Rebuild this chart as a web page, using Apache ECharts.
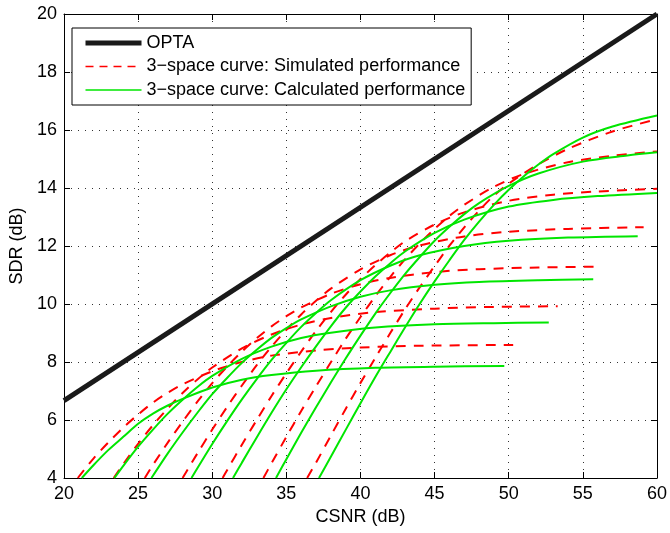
<!DOCTYPE html>
<html>
<head>
<meta charset="utf-8">
<script src="https://cdn.jsdelivr.net/npm/echarts@6/dist/echarts.min.js"></script>
<style>
html,body{margin:0;padding:0;background:#fff;}
#chart{width:670px;height:533px;}
</style>
</head>
<body>
<div id="chart"></div>
<script>
// ---- data ----
const xTicks = [20, 25, 30, 35, 40, 45, 50, 55, 60];
const yTicks = [4, 6, 8, 10, 12, 14, 16, 18, 20];

const opta = [[20, 6.667], [60, 20]];

// Calculated performance (green solid)
const calc1 = [[21.2,4.0],[22,4.45],[23,4.97],[24,5.42],[25,5.87],[26,6.22],[27,6.5],[28,6.73],[30,7.12],[32,7.39],[34,7.55],[37,7.70],[41,7.80],[45,7.84],[49.7,7.86]];
const calc2 = [[23.4,4.0],[24,4.42],[25,5.08],[26,5.67],[27,6.22],[28,6.70],[29,7.14],[30,7.52],[32,8.11],[34,8.53],[36,8.83],[38,9.01],[41,9.19],[45,9.30],[49,9.34],[52.7,9.36]];
const calc3 = [[25.9,4.0],[27,4.85],[28,5.57],[29,6.25],[30,6.89],[31,7.45],[32,7.97],[33,8.42],[34,8.83],[35,9.17],[36,9.47],[38,9.92],[40,10.25],[42,10.47],[45,10.66],[48,10.76],[52,10.82],[55.7,10.85]];
const calc4 = [[28.6,4.0],[30,5.17],[31,5.96],[32,6.71],[33,7.41],[34,8.07],[35,8.66],[36,9.21],[37,9.69],[38,10.13],[40,10.82],[42,11.32],[44,11.68],[47,12.0],[50,12.18],[54,12.29],[58.7,12.34]];
const calc5 = [[31.4,4.0],[32,4.53],[33,5.40],[34,6.25],[35,7.06],[36,7.82],[37,8.54],[38,9.23],[39,9.87],[40,10.43],[41,10.95],[42,11.40],[43,11.81],[45,12.45],[47,12.91],[50,13.36],[53,13.59],[56,13.72],[60,13.83]];
const calc6 = [[34.3,4.0],[35,4.65],[36,5.56],[37,6.44],[38,7.29],[39,8.12],[40,8.91],[41,9.67],[42,10.37],[43,11.03],[44,11.62],[45,12.18],[46,12.66],[47,13.10],[48,13.48],[50,14.07],[52,14.50],[55,14.91],[58,15.12],[60,15.23]];
const calc7 = [[37.2,4.0],[38,4.73],[39,5.66],[40,6.58],[41,7.48],[42,8.34],[43,9.19],[44,10.01],[45,10.78],[46,11.51],[47,12.21],[48,12.84],[49,13.42],[50,13.94],[51,14.40],[52,14.81],[53,15.17],[55,15.74],[57,16.12],[60,16.50]];

// Simulated performance (red dashed)
const sim1 = [[20.93,4.0],[22,4.68],[23,5.23],[24,5.74],[25,6.19],[26,6.60],[27,6.94],[28,7.23],[30,7.68],[32,8.0],[34,8.22],[37,8.40],[40,8.50],[44,8.56],[50.3,8.59]];
const sim2 = [[23.35,4.0],[24,4.48],[25,5.18],[26,5.82],[27,6.40],[28,6.93],[29,7.40],[30,7.81],[32,8.47],[34,8.95],[36,9.29],[38,9.52],[41,9.72],[45,9.84],[49,9.90],[53.3,9.92]];
const sim3 = [[25.45,4.0],[26,4.45],[27,5.22],[28,5.94],[29,6.63],[30,7.27],[31,7.84],[32,8.36],[33,8.82],[34,9.23],[35,9.58],[36,9.88],[38,10.35],[40,10.68],[42,10.90],[45,11.10],[48,11.20],[52,11.26],[56.2,11.29]];
const sim4 = [[28,4.0],[29,4.85],[30,5.67],[31,6.45],[32,7.19],[33,7.89],[34,8.53],[35,9.11],[36,9.64],[37,10.11],[38,10.53],[40,11.19],[42,11.68],[44,12.02],[47,12.33],[50,12.49],[54,12.59],[59.1,12.65]];
const sim5 = [[30.7,4.0],[31,4.27],[32,5.15],[33,6.0],[34,6.83],[35,7.61],[36,8.36],[37,9.07],[38,9.72],[39,10.32],[40,10.86],[41,11.34],[42,11.77],[43,12.16],[45,12.74],[47,13.16],[50,13.56],[53,13.77],[56,13.88],[60,13.97]];
const sim6 = [[33.45,4.0],[34,4.51],[35,5.42],[36,6.31],[37,7.16],[38,7.99],[39,8.80],[40,9.55],[41,10.27],[42,10.93],[43,11.54],[44,12.09],[45,12.59],[46,13.04],[47,13.42],[49,14.04],[51,14.48],[54,14.89],[57,15.11],[60,15.26]];
const sim7 = [[36.4,4.0],[37,4.53],[38,5.46],[39,6.38],[40,7.28],[41,8.14],[42,8.99],[43,9.81],[44,10.58],[45,11.31],[46,12.01],[47,12.64],[48,13.22],[49,13.74],[50,14.15],[51,14.5],[52,14.82],[54,15.35],[57,15.95],[60,16.37]];

const optaName = 'OPTA';
const simName = '3\u2212space curve: Simulated performance';
const calcName = '3\u2212space curve: Calculated performance';

const simSets = [sim1, sim2, sim3, sim4, sim5, sim6, sim7];
const calcSets = [calc1, calc2, calc3, calc4, calc5, calc6, calc7];

const FONT = '"Liberation Sans", Arial, Helvetica, sans-serif';
const RED = '#ff0000';
const GREEN = '#00e600';
const BLACK = '#1a1a1a';

const series = [];
series.push({
  name: optaName, type: 'line', data: opta, showSymbol: false, symbol: 'none',
  lineStyle: { color: BLACK, width: 5 }, itemStyle: { color: BLACK }, z: 2
});
simSets.forEach(d => series.push({
  name: simName, type: 'line', data: d, showSymbol: false, symbol: 'none',
  smooth: 0.3,
  lineStyle: { color: RED, width: 2, type: [10, 8] }, itemStyle: { color: RED }, z: 3
}));
calcSets.forEach(d => series.push({
  name: calcName, type: 'line', data: d, showSymbol: false, symbol: 'none',
  smooth: 0.3,
  lineStyle: { color: GREEN, width: 2 }, itemStyle: { color: GREEN }, z: 4
}));

const axisCommonX = { type: 'value', min: 20, max: 60, interval: 5 };
const axisCommonY = { type: 'value', min: 4, max: 20, interval: 2 };

const chart = echarts.init(document.getElementById('chart'), null, { renderer: 'canvas' });
chart.setOption({
  animation: false,
  backgroundColor: '#fff',
  textStyle: { fontFamily: FONT },
  grid: { left: 64, right: 13, top: 14, bottom: 55, containLabel: false },
  legend: {
    data: [
      { name: optaName, lineStyle: { width: 5, color: BLACK } },
      { name: simName, lineStyle: { width: 1.5, color: RED, type: [8, 6] } },
      { name: calcName, lineStyle: { width: 1.5, color: GREEN } }
    ],
    orient: 'vertical',
    left: 72, top: 28,
    padding: [6, 6, 6, 11],
    itemWidth: 56, itemHeight: 14, itemGap: 5.5,
    itemStyle: { opacity: 0 },
    backgroundColor: '#fff',
    borderColor: '#000', borderWidth: 1,
    textStyle: { fontFamily: FONT, fontSize: 18, color: '#000' },
    selectedMode: false
  },
  xAxis: [
    Object.assign({}, axisCommonX, {
      position: 'bottom',
      name: 'CSNR (dB)', nameLocation: 'middle', nameGap: 29,
      nameTextStyle: { fontFamily: FONT, fontSize: 18, color: '#000' },
      axisLine: { show: true, lineStyle: { color: '#000', width: 1 } },
      axisTick: { show: true, inside: true, length: 6, lineStyle: { color: '#000' } },
      axisLabel: { fontFamily: FONT, fontSize: 18, color: '#000', margin: 7,
        formatter: v => xTicks.indexOf(v) >= 0 ? String(v) : '' },
      splitLine: { show: true, lineStyle: { color: '#333', width: 1, type: [1, 6] } }
    }),
    Object.assign({}, axisCommonX, {
      position: 'top',
      axisLine: { show: true, onZero: false, lineStyle: { color: '#000', width: 1 } },
      axisTick: { show: true, inside: true, length: 6, lineStyle: { color: '#000' } },
      axisLabel: { show: false },
      splitLine: { show: false }
    })
  ],
  yAxis: [
    Object.assign({}, axisCommonY, {
      position: 'left',
      name: 'SDR (dB)', nameLocation: 'middle', nameGap: 36, nameRotate: 90,
      nameTextStyle: { fontFamily: FONT, fontSize: 18, color: '#000' },
      axisLine: { show: true, onZero: false, lineStyle: { color: '#000', width: 1 } },
      axisTick: { show: true, inside: true, length: 6, lineStyle: { color: '#000' } },
      axisLabel: { fontFamily: FONT, fontSize: 18, color: '#000', margin: 7,
        formatter: v => yTicks.indexOf(v) >= 0 ? String(v) : '' },
      splitLine: { show: true, lineStyle: { color: '#333', width: 1, type: [1, 6] } }
    }),
    Object.assign({}, axisCommonY, {
      position: 'right',
      axisLine: { show: true, onZero: false, lineStyle: { color: '#000', width: 1 } },
      axisTick: { show: true, inside: true, length: 6, lineStyle: { color: '#000' } },
      axisLabel: { show: false },
      splitLine: { show: false }
    })
  ],
  series: series
});
</script>
</body>
</html>
